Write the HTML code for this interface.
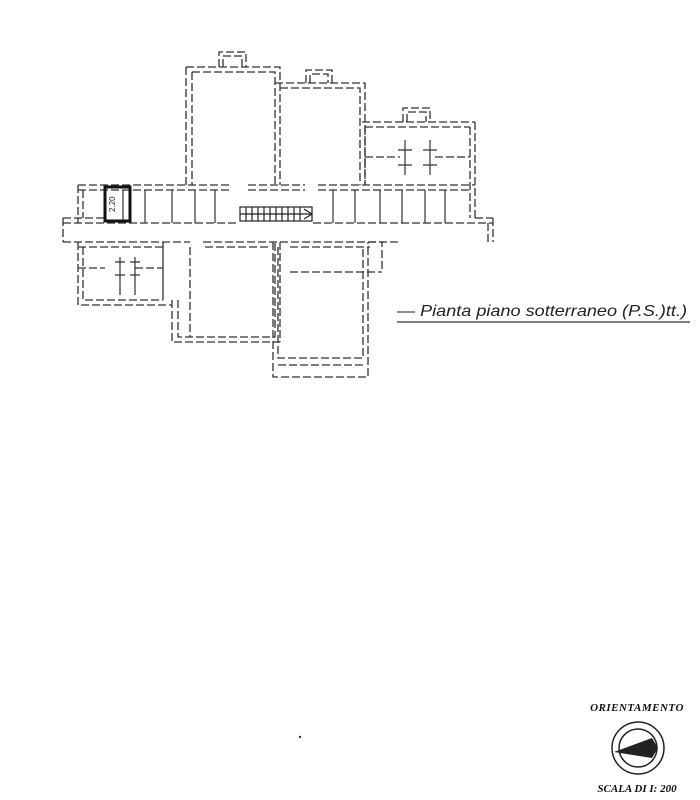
<!DOCTYPE html>
<html><head><meta charset="utf-8"><style>
body{margin:0;background:#fff;width:700px;height:800px;overflow:hidden}
svg{position:absolute;left:0;top:0}
</style></head><body>
<svg width="700" height="800" viewBox="0 0 700 800">
<g fill="none" stroke="#333" stroke-width="1.3" stroke-dasharray="8 3">
<path d="M78 185 H230 M248 185 H305 M318 185 H475 M78 190 H230 M248 190 H305 M318 190 H470"/>
<path d="M63 223 H238 M313 223 H493 M63 242 H190 M203 242 H400 M63 218 H105 M475 218 H493"/>
<path d="M78 185 V223 M83 190 V218 M63 218 V242 M493 218 V242 M488 223 V242 M475 122 V218 M470 127 V218"/>
<path d="M78 247 H163 M205 247 H270 M290 247 H370"/>
<path d="M186 67 H280 V185 M192 72 H275 V185 M186 67 V185 M192 72 V185"/>
<path d="M219 67 V52 H246 V67 M223 67 V56 H242 V67"/>
<path d="M275 83 H365 V185 M280 88 H360 V185"/>
<path d="M306 83 V70 H332 V83 M310 83 V74 H328 V83"/>
<path d="M362 122 H475 M365 127 H470 M365 127 V185 M403 122 V108 H430 V122 M407 122 V112 H426 V122 M365 157 H400 M435 157 H470"/>
<path d="M78 242 V305 H172 M83 247 V300 H163 M163 247 V300 M78 268 H105 M135 268 H163 M163 242 V300"/>
<path d="M172 300 V342 H280 M178 300 V337 H275 V242 M190 247 V337 M280 242 V342"/>
<path d="M273 242 V377 H368 V242 M278 247 V358 H363 V247 M278 365 H363 M368 242 H382 V272 M290 272 H382"/>
</g>
<g stroke="#333" stroke-width="1.2">
<path d="M123 190 V223 M145 190 V223 M172 190 V223 M195 190 V223 M215 190 V223 M333 190 V223 M355 190 V223 M380 190 V223 M402 190 V223 M425 190 V223 M445 190 V223"/>
<path d="M120 257 V295 M135 257 V295 M405 140 V175 M430 140 V175"/>
<path d="M115 262 H125 M115 275 H125 M130 262 H140 M130 275 H140 M398 150 H412 M398 165 H412 M423 150 H437 M423 165 H437"/>
</g>
<rect x="105" y="187" width="25" height="34" fill="none" stroke="#111" stroke-width="3"/>
<text x="115" y="212" font-family="Liberation Sans,sans-serif" font-size="8" transform="rotate(-90 115 212)" fill="#222">2.20</text>
<g stroke="#222" stroke-width="1.2" fill="none">
<rect x="240" y="207" width="72" height="14"/>
<path d="M240 214 H312"/>
<path d="M246 207 V221 M252 207 V221 M258 207 V221 M264 207 V221 M270 207 V221 M276 207 V221 M282 207 V221 M288 207 V221 M294 207 V221 M300 207 V221"/>
<path d="M304 209 L312 214 L304 219"/>
</g>
<text x="397" y="316" font-family="Liberation Sans,sans-serif" font-style="italic" font-size="16" fill="#222" textLength="290" lengthAdjust="spacingAndGlyphs">— Pianta piano sotterraneo (P.S.)tt.)</text>
<line x1="397" y1="322" x2="690" y2="322" stroke="#555" stroke-width="1.5"/>
<text x="637" y="711" text-anchor="middle" font-family="Liberation Serif,serif" font-weight="bold" font-style="italic" font-size="11" fill="#111" letter-spacing="0.5">ORIENTAMENTO</text>
<circle cx="638" cy="748" r="26" fill="none" stroke="#222" stroke-width="1.5"/>
<circle cx="638" cy="748" r="19" fill="none" stroke="#222" stroke-width="1.5"/>
<path d="M614 752 L652 738 L658 748 L652 758 Z" fill="#222"/>
<text x="637" y="792" text-anchor="middle" font-family="Liberation Serif,serif" font-weight="bold" font-style="italic" font-size="11" fill="#111">SCALA DI I: 200</text>
<circle cx="300" cy="737" r="1.2" fill="#333"/>
</svg>
</body></html>
